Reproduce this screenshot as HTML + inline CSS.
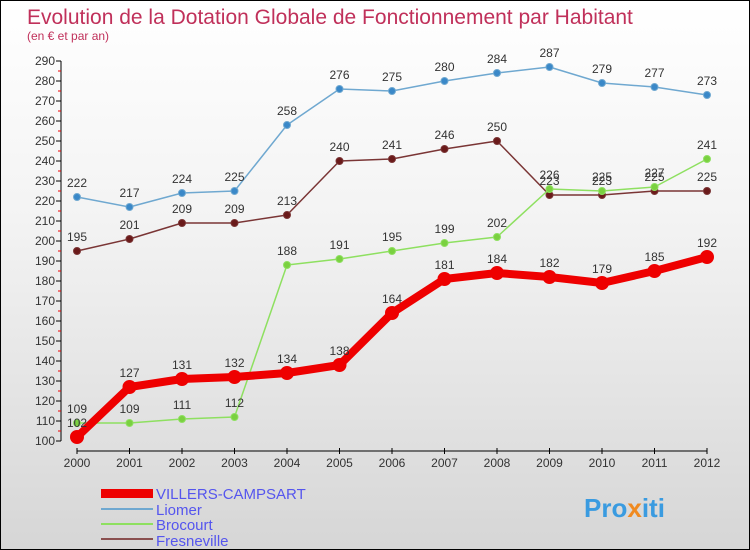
<!DOCTYPE html>
<html><head><meta charset="utf-8"><style>
body{margin:0}
#c{width:750px;height:550px;position:relative;overflow:hidden;background:linear-gradient(#fff 0%,#f3f3f3 40%,#d6d6d6 100%);box-sizing:border-box;border:1px solid #000;font-family:"Liberation Sans",sans-serif}
</style></head><body>
<div id="c">
<svg id="s" width="750" height="550" style="position:absolute;left:0;top:0">
<text x="26" y="23" font-size="21" fill="#c0305a">Evolution de la Dotation Globale de Fonctionnement par Habitant</text>
<text x="26" y="39" font-size="12" fill="#c0305a">(en € et par an)</text>
<g id="axes"></g><g id="series"></g>
<g>
<rect x="100" y="488" width="52" height="9" fill="#e00"/>
<text x="155" y="498" font-size="15" fill="#5555ee">VILLERS-CAMPSART</text>
<line x1="100" y1="508" x2="152" y2="508" stroke="#6fa8d0" stroke-width="2"/>
<text x="155" y="514" font-size="15" fill="#5555ee">Liomer</text>
<line x1="100" y1="523" x2="152" y2="523" stroke="#8ee060" stroke-width="2"/>
<text x="155" y="529" font-size="15" fill="#5555ee">Brocourt</text>
<line x1="100" y1="538" x2="152" y2="538" stroke="#8a5050" stroke-width="2"/>
<text x="155" y="545" font-size="15" fill="#5555ee">Fresneville</text>
</g>
<text x="583" y="516" font-size="26" font-weight="bold" fill="#3a9be0">Pro<tspan fill="#f08a20">x</tspan>iti</text>
</svg>
</div>
<script>
const years=[2000,2001,2002,2003,2004,2005,2006,2007,2008,2009,2010,2011,2012];
const yTicks=[100,110,120,130,140,150,160,170,180,190,200,210,220,230,240,250,260,270,280,290];
const villers=[102,127,131,132,134,138,164,181,184,182,179,185,192];
const liomer=[222,217,224,225,258,276,275,280,284,287,279,277,273];
const brocourt=[109,109,111,112,188,191,195,199,202,226,225,227,241];
const fresneville=[195,201,209,209,213,240,241,246,250,223,223,225,225];
const NS='http://www.w3.org/2000/svg';
function X(i){return 76+i*(630/(years.length-1));}
function Y(v){return 440-(v-100)*2;}
function mk(t,a,p){const e=document.createElementNS(NS,t);for(const k in a)e.setAttribute(k,a[k]);p.appendChild(e);return e;}
const ax=document.getElementById('axes');
let e=mk('line',{x1:60,y1:Y(290),x2:60,y2:Y(100),stroke:'#000'},ax);


yTicks.forEach(v=>{
 mk('line',{x1:55,y1:Y(v),x2:60,y2:Y(v),stroke:'#000'},ax);
 if(v<290)mk('line',{x1:57,y1:Y(v+5),x2:60,y2:Y(v+5),stroke:'#e00'},ax);
 const t=mk('text',{x:54,y:Y(v)+4,'font-size':12,'text-anchor':'end',fill:'#333'},ax);t.textContent=v;
 
 
});
e=mk('line',{x1:76,y1:450,x2:706,y2:450,stroke:'#000'},ax);


years.forEach((y,i)=>{
 mk('line',{x1:X(i),y1:447,x2:X(i),y2:453,stroke:'#000'},ax);
 const t=mk('text',{x:X(i),y:466,'font-size':12,'text-anchor':'middle',fill:'#333'},ax);t.textContent=y;
 
 
});
const sg=document.getElementById('series');
function draw(name,data,color,w,r,dot){
 const g=mk('g',{},sg);
 
 
 mk('polyline',{points:data.map((v,i)=>X(i)+','+Y(v)).join(' '),fill:'none',stroke:color,'stroke-width':w,'stroke-linejoin':'round'},g);
 data.forEach((v,i)=>{
  const c=mk('circle',{cx:X(i),cy:Y(v),r:r,fill:dot,stroke:color,'stroke-width':1},g);
  
  
  const t=mk('text',{x:X(i),y:Y(v)-10,'font-size':12,'text-anchor':'middle',fill:'#333'},g);t.textContent=v;
  
  
 });
}
draw('liomer',liomer,'#6fa8d0',1.5,3.5,'#3a88c8');
draw('fresneville',fresneville,'#7a3535',1.5,3.5,'#6a1a1a');
draw('brocourt',brocourt,'#8ee060',1.5,3.5,'#7ad040');
draw('villers',villers,'#e00',8,6.5,'#e00');
</script>
</body></html>
